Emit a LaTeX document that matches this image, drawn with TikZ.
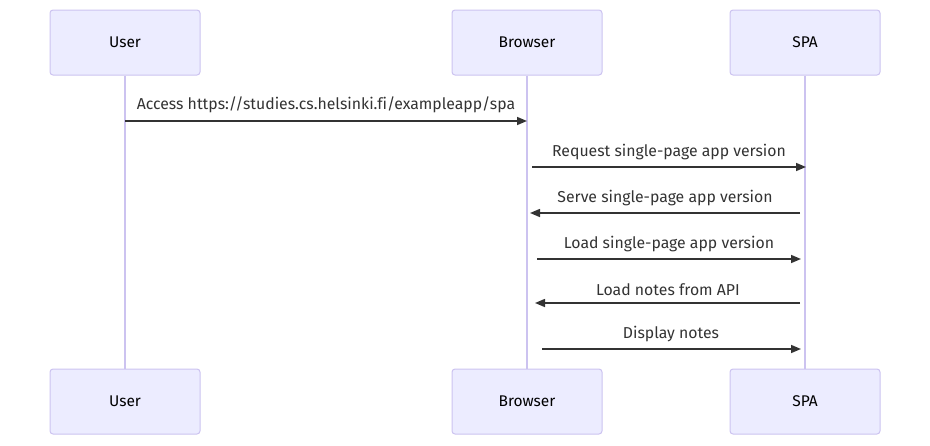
\documentclass[tikz,border=0pt]{standalone}
\usepackage{fontspec}
\setmainfont{Fira Sans}[Ligatures=NoCommon]
\usetikzlibrary{arrows.meta}
\definecolor{actfill}{HTML}{ECECFF}
\definecolor{actline}{HTML}{CCC3F0}
\definecolor{msg}{HTML}{333333}
\begin{document}
\begin{tikzpicture}[x=1pt,y=-1pt,
  actor/.style={draw=actline,fill=actfill,rounded corners=3pt,line width=1pt,minimum width=150pt,minimum height=65pt,inner sep=0pt,font=\fontsize{15.5}{18}\selectfont,text=black},
  life/.style={draw=actline,line width=1.5pt},
  msgline/.style={draw=msg,line width=1.5pt,-{Triangle[length=10pt,width=8pt]}},
  lbl/.style={font=\fontsize{15.8}{18}\selectfont,text=msg,inner sep=0pt}]
\useasboundingbox (0,0) rectangle (930,445);
\node[actor] (u1) at (125,42.5) {User};
\node[actor] (b1) at (527,42.5) {Browser};
\node[actor] (s1) at (805,42.5) {SPA};
\node[actor] (u2) at (125,401.5) {User};
\node[actor] (b2) at (527,401.5) {Browser};
\node[actor] (s2) at (805,401.5) {SPA};
\draw[life] (u1.south) -- (u2.north);
\draw[life] (b1.south) -- (b2.north);
\draw[life] (s1.south) -- (s2.north);
\coordinate (a1s) at (125,121); \coordinate (a1e) at (527,121);
\coordinate (a2s) at (532,167); \coordinate (a2e) at (806,167);
\coordinate (a3s) at (800,213); \coordinate (a3e) at (530,213);
\coordinate (a4s) at (537,259); \coordinate (a4e) at (801,259);
\coordinate (a5s) at (800,303); \coordinate (a5e) at (535,303);
\coordinate (a6s) at (542,349); \coordinate (a6e) at (801,349);
\draw[msgline] (a1s) -- (a1e);
\draw[msgline] (a2s) -- (a2e);
\draw[msgline] (a3s) -- (a3e);
\draw[msgline] (a4s) -- (a4e);
\draw[msgline] (a5s) -- (a5e);
\draw[msgline] (a6s) -- (a6e);
\node[lbl] (l1) at (326,105) {Access https://studies.cs.helsinki.fi/exampleapp/spa};
\node[lbl] (l2) at (669,152) {Request single-page app version};
\node[lbl] (l3) at (665,198) {Serve single-page app version};
\node[lbl] (l4) at (669,244) {Load single-page app version};
\node[lbl] (l5) at (668,290) {Load notes from API};
\node[lbl] (l6) at (671,334) {Display notes};
\end{tikzpicture}
\end{document}
